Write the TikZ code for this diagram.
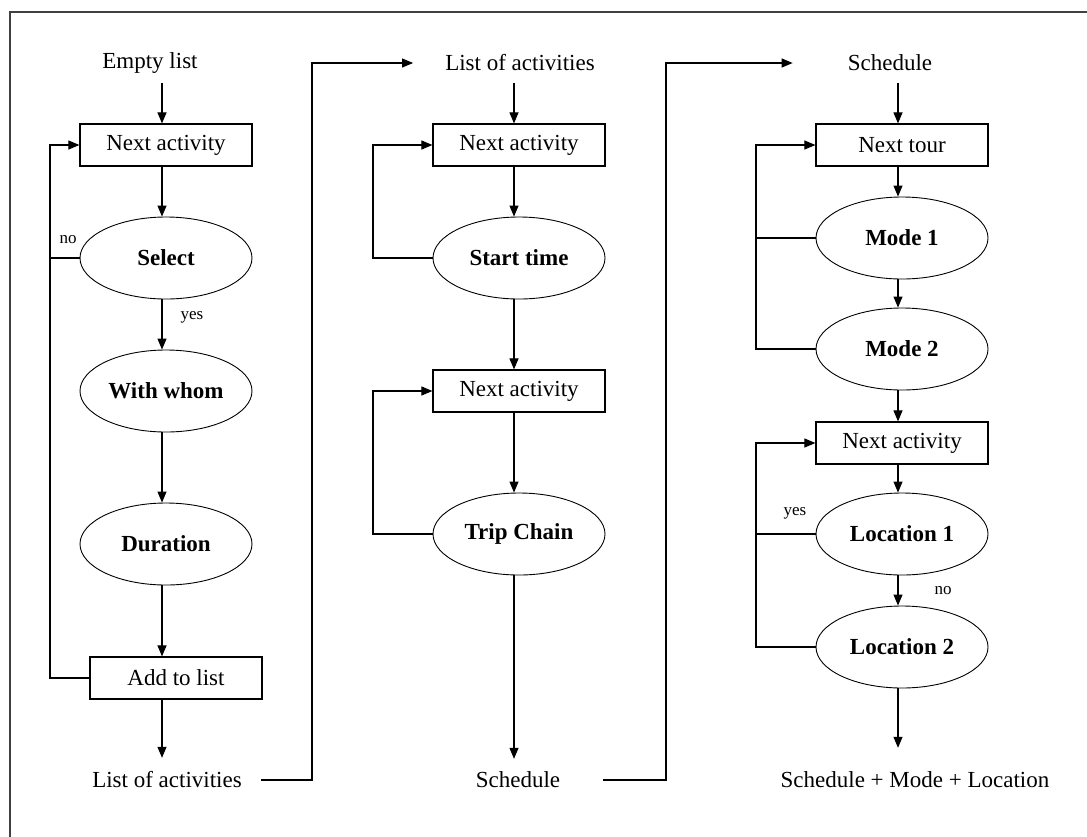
\documentclass[tikz,border=0pt]{standalone}
\usepackage{fontspec}
\setmainfont{Liberation Serif}
\usetikzlibrary{arrows.meta,shapes.geometric}
\begin{document}
\begin{tikzpicture}[x=1pt,y=-1pt,
 box/.style={draw, line width=1.2pt, minimum width=172pt, minimum height=42pt, inner sep=0pt, font=\fontsize{23}{27}\selectfont},
 oval/.style={draw, ellipse, line width=0.9pt, minimum width=172pt, minimum height=82pt, inner sep=0pt, font=\fontsize{23}{27}\selectfont\bfseries},
 lbl/.style={inner sep=0pt, minimum height=40pt, font=\fontsize{23}{27}\selectfont},
 small/.style={inner sep=0pt, font=\fontsize{17}{20}\selectfont},
 arr/.style={line width=1.1pt, -{Triangle[length=11pt,width=9pt]}},
 ln/.style={line width=1.1pt},
]
\useasboundingbox (0,0) rectangle (1087,836);
\draw[line width=1.5pt, black!75] (10,840) -- (10,12) -- (1090,12);

% helper columns
\coordinate (c1) at (162,0);
\coordinate (c2) at (514,0);
\coordinate (c3) at (898,0);
\coordinate (f1) at (50,0);
\coordinate (f2) at (373,0);
\coordinate (f3) at (756,0);

% column 1
\node[lbl] (empty) at (150,63) {Empty list};
\node[box] (na1) at (166,145) {Next activity};
\node[oval] (sel) at (166,258) {Select};
\node[oval] (ww) at (166,391) {With whom};
\node[oval] (dur) at (166,544) {Duration};
\node[box] (add) at (176,678) {Add to list};
\node[lbl] (loa1) at (167,780) {List of activities};
\node[small] (no1) at (68,240) {no};
\node[small] (yes1) at (192,317) {yes};

\draw[arr] (empty.south -| c1) -- (na1.north -| c1);
\draw[arr] (na1.south -| c1) -- (sel.north -| c1);
\draw[arr] (sel.south -| c1) -- (ww.north -| c1);
\draw[arr] (ww.south -| c1) -- (dur.north -| c1);
\draw[arr] (dur.south -| c1) -- (add.north -| c1);
\draw[arr] (add.south -| c1) -- ([yshift=2pt]loa1.north -| c1);
\draw[ln] (sel.west) -- (sel.west -| f1);
\draw[arr] (add.west) -- (add.west -| f1) |- (na1.west);

% column 2
\node[lbl] (loa2) at (520,63) {List of activities};
\node[box] (na2) at (519,145) {Next activity};
\node[oval] (st) at (519,258) {Start time};
\node[box] (na3) at (519,391) {Next activity};
\node[oval] (tc) at (519,534) {Trip Chain};
\node[lbl] (sch1) at (518,780) {Schedule};

\draw[arr] (loa2.south -| c2) -- (na2.north -| c2);
\draw[arr] (na2.south -| c2) -- (st.north -| c2);
\draw[arr] (st.south -| c2) -- (na3.north -| c2);
\draw[arr] (na3.south -| c2) -- (tc.north -| c2);
\draw[arr] (tc.south -| c2) -- ([yshift=1pt]sch1.north -| c2);
\draw[arr] (st.west) -- (st.west -| f2) |- (na2.west);
\draw[arr] (tc.west) -- (tc.west -| f2) |- (na3.west);

% column 3
\node[lbl] (sch2) at (890,63) {Schedule};
\node[box] (nt) at (902,145) {Next tour};
\node[oval] (m1) at (902,238) {Mode 1};
\node[oval] (m2) at (902,349) {Mode 2};
\node[box] (na4) at (902,443) {Next activity};
\node[oval] (l1) at (902,534) {Location 1};
\node[oval] (l2) at (902,647) {Location 2};
\node[lbl] (fin) at (915,780) {Schedule + Mode + Location};
\node[small] (yes2) at (795,513) {yes};
\node[small] (no2) at (943,591) {no};

\draw[arr] (sch2.south -| c3) -- (nt.north -| c3);
\draw[arr] (nt.south -| c3) -- (m1.north -| c3);
\draw[arr] (m1.south -| c3) -- (m2.north -| c3);
\draw[arr] (m2.south -| c3) -- (na4.north -| c3);
\draw[arr] (na4.south -| c3) -- (l1.north -| c3);
\draw[arr] (l1.south -| c3) -- (l2.north -| c3);
\draw[arr, shorten >=12pt] (l2.south -| c3) -- (fin.north -| c3);
\draw[ln] (m1.west) -- (m1.west -| f3);
\draw[arr] (m2.west) -- (m2.west -| f3) |- (nt.west);
\draw[ln] (l1.west) -- (l1.west -| f3);
\draw[arr] (l2.west) -- (l2.west -| f3) |- (na4.west);

% links between columns
\coordinate (t1) at (312,63);
\draw[arr, shorten <=19pt, shorten >=32pt] (loa1.east) -- (loa1.east -| t1) -- (t1) -- (loa2.west);
\coordinate (t2) at (666,63);
\draw[arr, shorten <=43pt, shorten >=55pt] (sch1.east) -- (sch1.east -| t2) -- (t2) -- (sch2.west);
\end{tikzpicture}
\end{document}
